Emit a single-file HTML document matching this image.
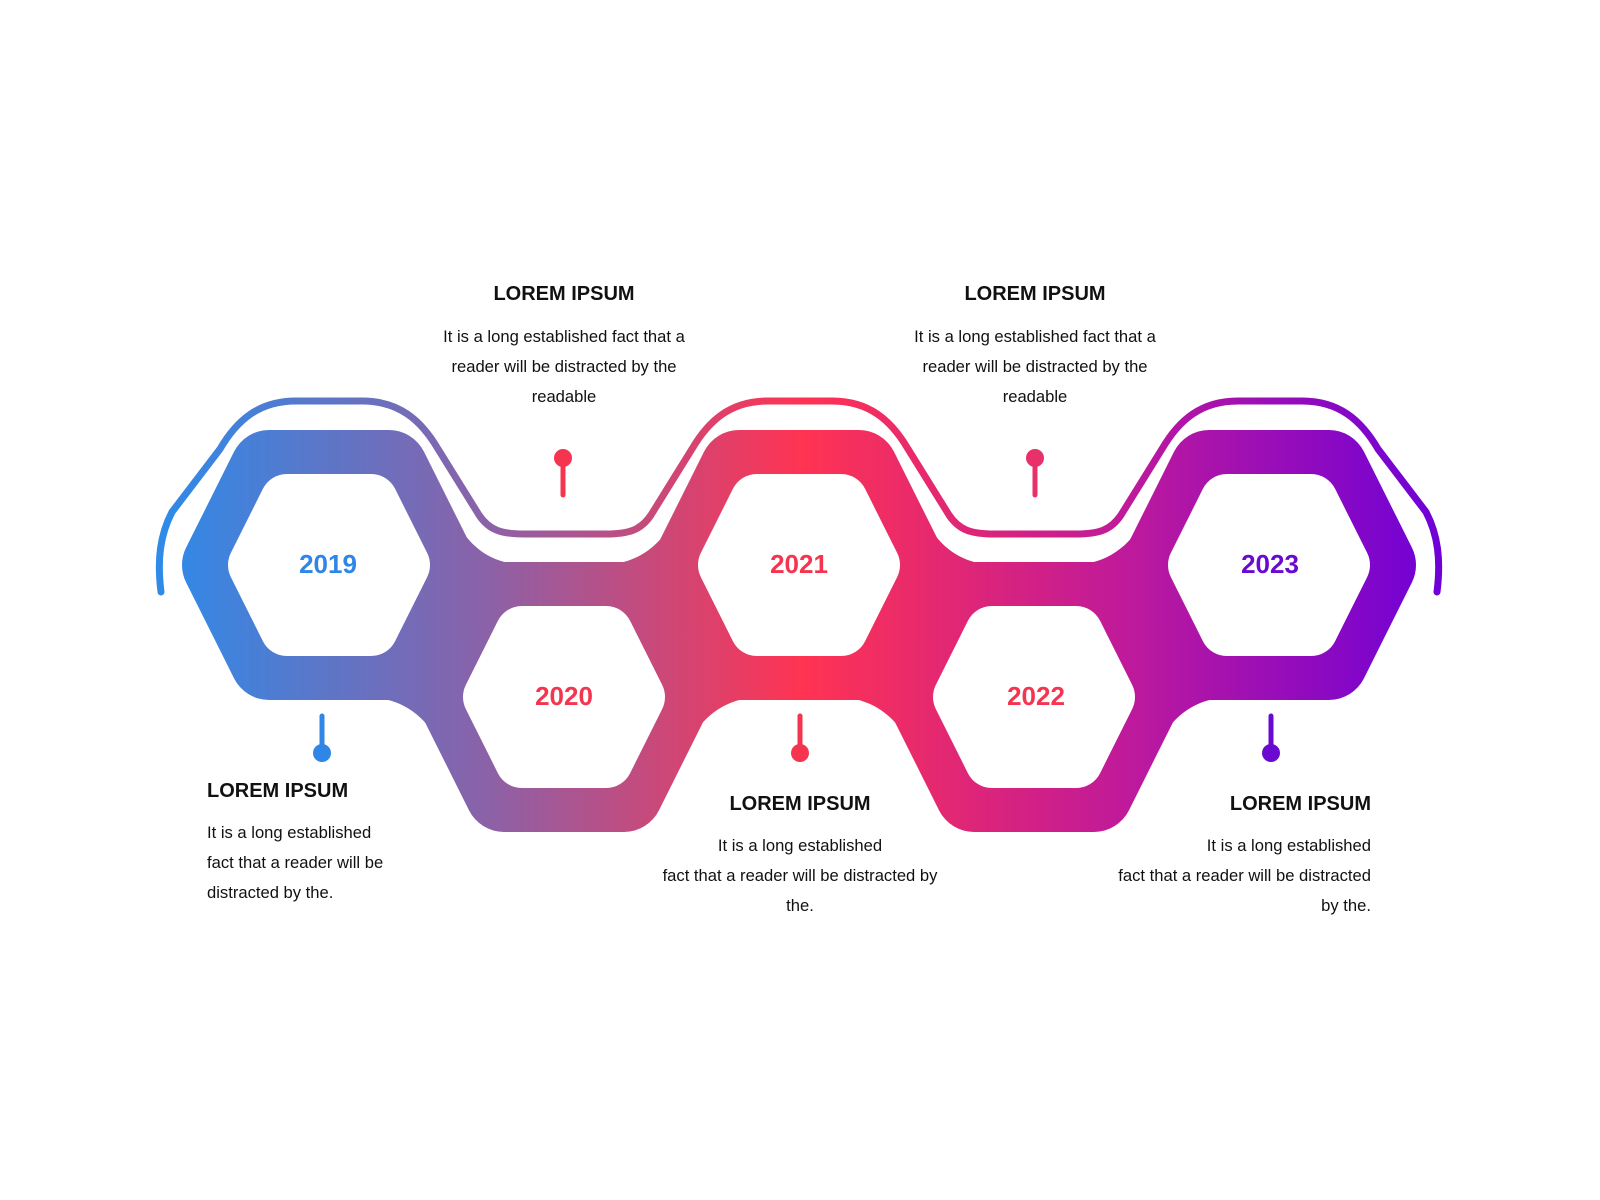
<!DOCTYPE html>
<html><head><meta charset="utf-8"><style>
html,body{margin:0;padding:0;background:#fff;}
svg{display:block;}
text{font-family:"Liberation Sans",Arial,sans-serif;}
.h{font-weight:bold;font-size:20px;fill:#111;}
.b{font-size:16.6px;fill:#111;}
.y{font-weight:bold;font-size:26px;}
</style></head><body>
<svg width="1600" height="1200" viewBox="0 0 1600 1200" xmlns="http://www.w3.org/2000/svg">
<defs>
<linearGradient id="g" gradientUnits="userSpaceOnUse" x1="165" y1="0" x2="1440" y2="0">
<stop offset="0" stop-color="#2f8ae8"/>
<stop offset="0.25" stop-color="#8a62a8"/>
<stop offset="0.5" stop-color="#ff3352"/>
<stop offset="0.75" stop-color="#c01a9a"/>
<stop offset="1" stop-color="#6e00d8"/>
</linearGradient>
</defs>
<!-- band -->
<g fill="url(#g)" stroke="url(#g)" stroke-width="78" stroke-linejoin="round">
<polygon points="221,565 269,469 389,469 437,565 389,661 269,661"/>
<polygon points="456,697 504,601 624,601 672,697 624,793 504,793"/>
<polygon points="691,565 739,469 859,469 907,565 859,661 739,661"/>
<polygon points="926,697 974,601 1094,601 1142,697 1094,793 974,793"/>
<polygon points="1161,565 1209,469 1329,469 1377,565 1329,661 1209,661"/>
</g>
<rect x="329" y="565" width="940" height="132" fill="url(#g)"/>
<!-- fillets -->
<g fill="url(#g)">
<path d="M451,512 C469,550 494,565 529,565 L599,565 C634,565 659,550 679,512 L679,600 L451,600 Z"/>
<path d="M921,512 C939,550 964,565 999,565 L1069,565 C1104,565 1129,550 1149,512 L1149,600 L921,600 Z"/>
<path d="M329,697 L364,697 C399,697 424,712 444,750 L444,660 L329,660 Z"/>
<path d="M684,750 C704,712 729,697 764,697 L834,697 C869,697 894,712 914,750 L914,660 L684,660 Z"/>
<path d="M1154,750 C1174,712 1199,697 1234,697 L1269,697 L1269,660 L1154,660 Z"/>
</g>
<!-- holes -->
<g fill="#fff" stroke="#fff" stroke-width="54" stroke-linejoin="round">
<polygon points="255,565 287,501 371,501 403,565 371,629 287,629"/>
<polygon points="490,697 522,633 606,633 638,697 606,761 522,761"/>
<polygon points="725,565 757,501 841,501 873,565 841,629 757,629"/>
<polygon points="960,697 992,633 1076,633 1108,697 1076,761 992,761"/>
<polygon points="1195,565 1227,501 1311,501 1343,565 1311,629 1227,629"/>
</g>
<!-- top line -->
<path d="M161,592 C157,560 160,535 172,512 L220,449 C237,420 259,401 296,401 L362,401 C399,401 421,420 438,449 L479,515 C489,530 501,534 524,534 L606,534 C629,534 641,530 651,515 L692,449 C709,420 731,401 768,401 L832,401 C869,401 891,420 908,449 L949,515 C959,530 971,534 994,534 L1076,534 C1099,534 1111,530 1121,515 L1162,449 C1179,420 1201,401 1238,401 L1302,401 C1339,401 1361,420 1378,449 L1426,512 C1438,535 1441,560 1437,592" fill="none" stroke="url(#g)" stroke-width="7" stroke-linecap="round"/>
<!-- pins -->
<g stroke-width="5" stroke-linecap="round">
<line x1="563" y1="458" x2="563" y2="495" stroke="#f5344f"/><circle cx="563" cy="458" r="9" fill="#f5344f"/>
<line x1="1035" y1="458" x2="1035" y2="495" stroke="#e8306a"/><circle cx="1035" cy="458" r="9" fill="#e8306a"/>
<line x1="322" y1="716" x2="322" y2="752" stroke="#2f86e6"/><circle cx="322" cy="753" r="9" fill="#2f86e6"/>
<line x1="800" y1="716" x2="800" y2="752" stroke="#f5344f"/><circle cx="800" cy="753" r="9" fill="#f5344f"/>
<line x1="1271" y1="716" x2="1271" y2="752" stroke="#6a0ad0"/><circle cx="1271" cy="753" r="9" fill="#6a0ad0"/>
</g>
<!-- years -->
<text class="y" x="328" y="573" text-anchor="middle" fill="#2f86e6">2019</text>
<text class="y" x="564" y="705" text-anchor="middle" fill="#f5344f">2020</text>
<text class="y" x="799" y="573" text-anchor="middle" fill="#f5344f">2021</text>
<text class="y" x="1036" y="705" text-anchor="middle" fill="#f5344f">2022</text>
<text class="y" x="1270" y="573" text-anchor="middle" fill="#6a0ad0">2023</text>
<!-- texts -->
<g text-anchor="middle">
<text class="h" x="564" y="300">LOREM IPSUM</text>
<text class="b" x="564" y="342">It is a long established fact that a</text>
<text class="b" x="564" y="372">reader will be distracted by the</text>
<text class="b" x="564" y="402">readable</text>
<text class="h" x="1035" y="300">LOREM IPSUM</text>
<text class="b" x="1035" y="342">It is a long established fact that a</text>
<text class="b" x="1035" y="372">reader will be distracted by the</text>
<text class="b" x="1035" y="402">readable</text>
<text class="h" x="800" y="810">LOREM IPSUM</text>
<text class="b" x="800" y="851">It is a long established</text>
<text class="b" x="800" y="881">fact that a reader will be distracted by</text>
<text class="b" x="800" y="911">the.</text>
</g>
<text class="h" x="207" y="797">LOREM IPSUM</text>
<text class="b" x="207" y="838">It is a long established</text>
<text class="b" x="207" y="868">fact that a reader will be</text>
<text class="b" x="207" y="898">distracted by the.</text>
<g text-anchor="end">
<text class="h" x="1371" y="810">LOREM IPSUM</text>
<text class="b" x="1371" y="851">It is a long established</text>
<text class="b" x="1371" y="881">fact that a reader will be distracted</text>
<text class="b" x="1371" y="911">by the.</text>
</g>
</svg>
</body></html>
